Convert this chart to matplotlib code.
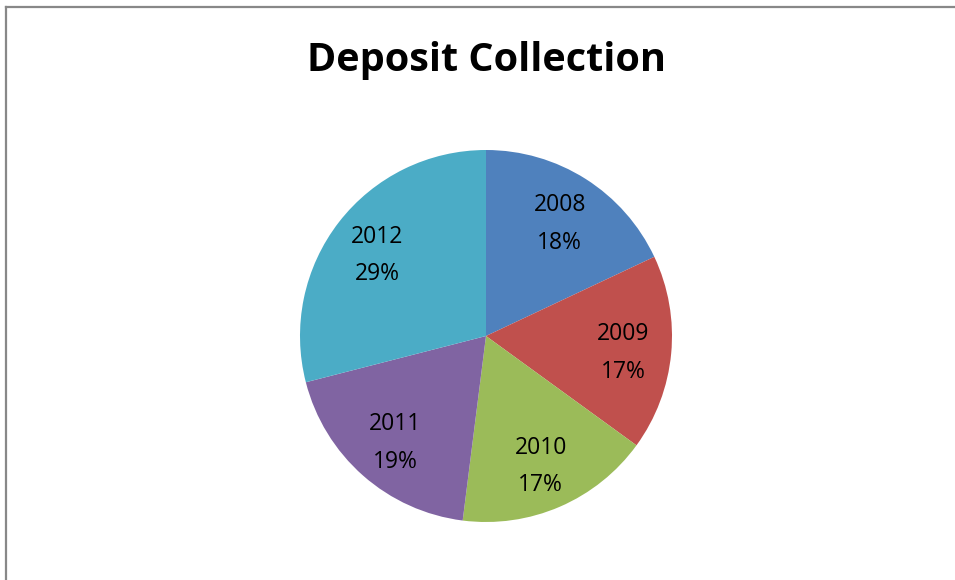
import matplotlib
matplotlib.use("Agg")
import matplotlib.pyplot as plt
from matplotlib.transforms import ScaledTranslation

years = ["2008", "2009", "2010", "2011", "2012"]
shares = [18, 17, 17, 19, 29]
colors = ["#4F81BD", "#C0504D", "#9BBB59", "#8064A2", "#4BACC6"]

W, H = 955, 580
fig = plt.figure(figsize=(W / 100, H / 100), dpi=100)
fig.patch.set_facecolor("white")

# chart frame (only top and left edges fall inside the image)
fig.add_artist(plt.Line2D([6 / W, 6 / W], [0, 1 - 7 / H], transform=fig.transFigure,
                          color="#888888", lw=1.6))
fig.add_artist(plt.Line2D([6 / W, 1], [1 - 7 / H, 1 - 7 / H], transform=fig.transFigure,
                          color="#888888", lw=1.6))

cx, cy, r = 486, 336, 186
box = 2 * r
ax = fig.add_axes([(cx - r) / W, 1 - (cy + r) / H, box / W, box / H])

labels = [f"{y}\n{s}%" for y, s in zip(years, shares)]
wedges, texts = ax.pie(shares, colors=colors, startangle=90, counterclock=False,
                       radius=1, labels=labels, labeldistance=0.74,
                       wedgeprops=dict(linewidth=0),
                       textprops=dict(fontsize=16.5, family="Open Sans",
                                      ha="center", va="center", linespacing=1.75))
ax.set_xlim(-1, 1)
ax.set_ylim(-1, 1)
ax.set_aspect("equal")
ax.axis("off")

# nudge the data labels slightly downward
shift = ScaledTranslation(0, -4 / 100, fig.dpi_scale_trans)
for t in texts:
    t.set_transform(t.get_transform() + shift)

fig.text(cx / W, 1 - 61 / H, "Deposit Collection", ha="center", va="center",
         fontsize=28.5, fontweight="bold", family="Open Sans")

fig.savefig("out.png", dpi=100)
